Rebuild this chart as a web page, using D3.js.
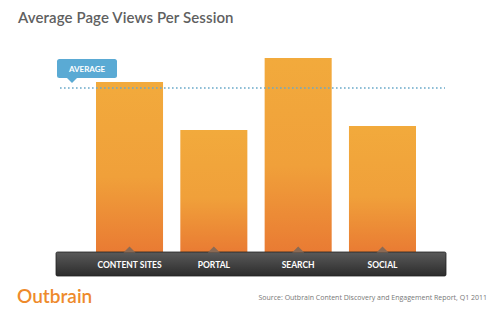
<!DOCTYPE html>
<html><head><meta charset="utf-8">
<script src="https://cdn.jsdelivr.net/npm/d3@7"></script>
<style>html,body{margin:0;padding:0;background:#fff;}svg{display:block;}</style>
</head><body>
<script>
const categories = ["CONTENT SITES", "PORTAL", "SEARCH", "SOCIAL"];
const values = [4.25, 3.05, 4.85, 3.15];
const averageValue = 4.1;
const title = "Average Page Views Per Session";
const sourceText = "Source: Outbrain Content Discovery and Engagement Report, Q1 2011";

const W = 500, H = 324;
const svg = d3.select("body").append("svg").attr("width", W).attr("height", H);
const defs = svg.append("defs");

const bg = defs.append("linearGradient").attr("id","barGrad").attr("x1",0).attr("y1",0).attr("x2",0).attr("y2",1);
bg.append("stop").attr("offset","0%").attr("stop-color","#f2aa3c");
bg.append("stop").attr("offset","55%").attr("stop-color","#f0a03a");
bg.append("stop").attr("offset","100%").attr("stop-color","#e97a33");

const bandG = defs.append("linearGradient").attr("id","bandGrad").attr("x1",0).attr("y1",0).attr("x2",0).attr("y2",1);
bandG.append("stop").attr("offset","0%").attr("stop-color","#5a5a5a");
bandG.append("stop").attr("offset","100%").attr("stop-color","#2c2c2c");

const x = d3.scaleBand().domain(categories).range([96, 416]).paddingInner(0.205).paddingOuter(0);
const y = d3.scaleLinear().domain([0, 5]).range([252, 52]);

// title
svg.append("text").attr("x", 18).attr("y", 23).text(title)
  .attr("font-family", "Lato, 'Open Sans', sans-serif").attr("font-size", 15)
  .attr("font-weight", 600).attr("fill", "#606060").attr("letter-spacing", 0.1);

// bars
svg.selectAll("rect.bar").data(values).join("rect").attr("class","bar")
  .attr("x", (d,i) => x(categories[i]))
  .attr("y", d => y(d))
  .attr("width", x.bandwidth())
  .attr("height", d => y(0) - y(d) + 2)
  .attr("fill", "url(#barGrad)");

// average dotted line
const ay = y(averageValue);
svg.append("line").attr("x1", 60).attr("x2", 445).attr("y1", ay).attr("y2", ay)
  .attr("stroke", "#6aa9c9").attr("stroke-width", 1.6).attr("stroke-dasharray", "1.6,2.4");

// average label
svg.append("path").attr("d", `M66,77 L72,83 L78,77 Z`).attr("fill", "#5aaad4");
svg.append("rect").attr("x", 57).attr("y", 59).attr("width", 60).attr("height", 19).attr("rx", 2.5).attr("fill", "#5aaad4");
svg.append("text").attr("x", 87).attr("y", 72).attr("text-anchor","middle").text("AVERAGE")
  .attr("font-family", "Lato, sans-serif").attr("font-weight", 700).attr("font-size", 8).attr("fill", "#fff");

// band
svg.append("rect").attr("x", 56).attr("y", 252).attr("width", 390).attr("height", 24).attr("rx", 1.5)
  .attr("fill", "url(#bandGrad)").attr("stroke", "#222").attr("stroke-width", 0.8);
svg.selectAll("path.notch").data(categories).join("path").attr("class","notch")
  .attr("d", d => { const c = x(d) + x.bandwidth()/2; return `M${c-6},252.5 L${c},246.5 L${c+6},252.5 Z`; })
  .attr("fill", "#8a6a55");
svg.selectAll("text.cat").data(categories).join("text").attr("class","cat")
  .attr("x", d => x(d) + x.bandwidth()/2).attr("y", 268)
  .attr("text-anchor","middle").text(d => d)
  .attr("font-family", "Lato, sans-serif").attr("font-weight", 700).attr("font-size", 8.5).attr("fill", "#fff");

// footer
svg.append("text").attr("x", 17).attr("y", 303).text("Outbrain")
  .attr("font-family", "Lato, sans-serif").attr("font-weight", 600).attr("font-size", 19).attr("fill", "#ee8a2c");
svg.append("text").attr("x", 487).attr("y", 300).attr("text-anchor","end").text(sourceText)
  .attr("font-family", "'Open Sans', sans-serif").attr("font-size", 7).attr("fill", "#777");
</script>
</body></html>
